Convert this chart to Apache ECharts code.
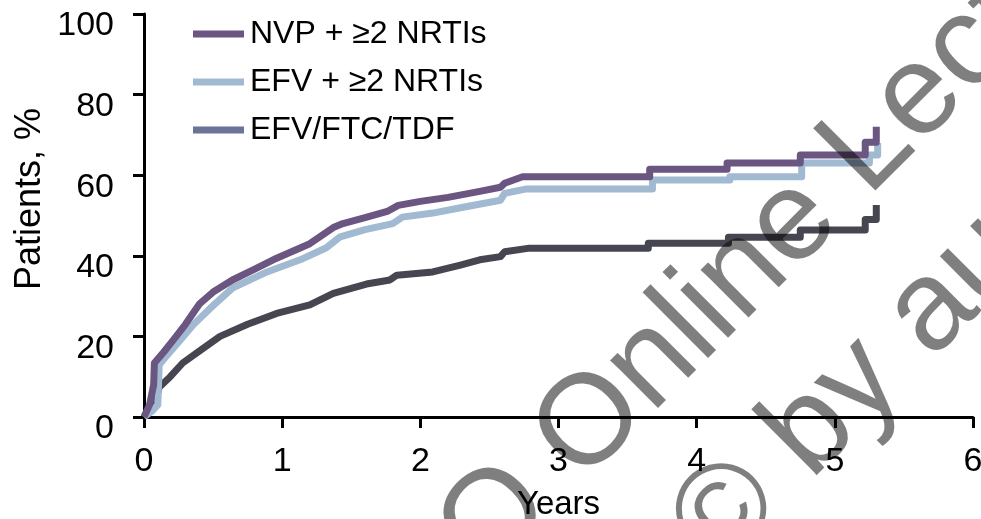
<!DOCTYPE html>
<html>
<head>
<meta charset="utf-8">
<script src="https://cdn.jsdelivr.net/npm/echarts@6/dist/echarts.min.js"></script>
<style>html,body{margin:0;padding:0;background:#fff}#c{width:981px;height:519px}</style>
</head>
<body>
<div id="c"></div>
<script>
var seriesNames = ['NVP + \u22652 NRTIs', 'EFV + \u22652 NRTIs', 'EFV/FTC/TDF'];
var xTicks = [0, 1, 2, 3, 4, 5, 6];
var yTicks = [0, 20, 40, 60, 80, 100];

var nvpYears = [0,0.04,0.07,0.075,0.14,0.21,0.3,0.4,0.5,0.64,0.79,0.96,1.2,1.37,1.44,1.6,1.76,1.84,2.0,2.2,2.43,2.58,2.61,2.74,3.66,3.66,4.22,4.22,4.75,4.75,5.22,5.22,5.30,5.30];
var nvpPct   = [0,3,8,13.4,16,19,23,28,31,34,36.5,39.4,43,47,48,49.5,51,52.5,53.5,54.5,56,57,58,59.6,59.6,61.5,61.5,63,63,65,65,68.2,68.2,72];

var efvYears = [0,0.06,0.1,0.11,0.16,0.26,0.36,0.48,0.64,0.89,1.13,1.32,1.42,1.6,1.80,1.87,2.09,2.3,2.58,2.61,2.77,3.68,3.68,4.24,4.24,4.76,4.76,5.25,5.25,5.31,5.31];
var efvPct   = [0,1.5,3,13,15,19,23,27,32,36,39,42,44.7,46.5,48,49.6,50.6,52,53.8,55.5,56.6,56.6,58.8,58.8,59.6,59.6,63,63,65,65,68];

var tdfYears = [0,0.05,0.1,0.11,0.19,0.28,0.41,0.55,0.75,0.96,1.2,1.37,1.61,1.78,1.83,2.09,2.29,2.43,2.58,2.61,2.79,3.65,3.65,4.23,4.23,4.75,4.75,5.22,5.22,5.30,5.30];
var tdfPct   = [0,3,6,7.4,10,13.4,16.6,20,23,25.7,27.8,30.7,33,34,35.2,36,37.7,39,39.8,41,41.9,41.9,43.1,43.1,44.6,44.6,46.4,46.4,49,49,52.6];

function pairs(xs, ys) { return xs.map(function (x, i) { return [x, ys[i]]; }); }

var FONT = '"Liberation Sans", Arial, sans-serif';
var chart = echarts.init(document.getElementById('c'), null, { renderer: 'canvas' });
chart.setOption({
  animation: false,
  backgroundColor: '#ffffff',
  grid: { left: 144, right: 8, top: 14, bottom: 102, containLabel: false, outerBoundsMode: 'none' },
  legend: {
    orient: 'vertical', left: 188, top: 13, itemWidth: 51, itemHeight: 7, itemGap: 16,
    icon: 'rect',
    textStyle: { fontFamily: FONT, fontSize: 32, color: '#000', padding: [0, 0, 0, 1] },
    data: [
      { name: seriesNames[0], itemStyle: { color: '#6b5581' } },
      { name: seriesNames[1], itemStyle: { color: '#a1b9d1' } },
      { name: seriesNames[2], itemStyle: { color: '#6b7397' } }
    ]
  },
  xAxis: {
    type: 'value', min: 0, max: 6, interval: 1,
    name: 'Years', nameLocation: 'middle', nameGap: 71,
    nameTextStyle: { fontFamily: FONT, fontSize: 33, color: '#000' },
    axisLine: { onZero: false, lineStyle: { color: '#000', width: 3 } },
    axisTick: { show: true, length: 11, lineStyle: { color: '#000', width: 3 } },
    axisLabel: { fontFamily: FONT, fontSize: 34, color: '#000', margin: 28,
      formatter: function (v) { return xTicks.indexOf(v) >= 0 ? String(v) : ''; } },
    splitLine: { show: false }
  },
  yAxis: {
    type: 'value', min: 0, max: 100, interval: 20,
    axisLine: { show: true, lineStyle: { color: '#000', width: 3 } },
    axisTick: { show: true, length: 11, lineStyle: { color: '#000', width: 3 } },
    axisLabel: { fontFamily: FONT, fontSize: 34, color: '#000', margin: 30,
      verticalAlign: 'top', lineHeight: 24,
      formatter: function (v) { return yTicks.indexOf(v) >= 0 ? String(v) : ''; } },
    splitLine: { show: false }
  },
  series: [
    { name: seriesNames[0], type: 'line', z: 4, showSymbol: false, symbol: 'none',
      data: pairs(nvpYears, nvpPct), lineStyle: { color: '#6b5581', width: 7, join: 'round' }, itemStyle: { color: '#6b5581' } },
    { name: seriesNames[1], type: 'line', z: 3, showSymbol: false, symbol: 'none',
      data: pairs(efvYears, efvPct), lineStyle: { color: '#a1b9d1', width: 7, join: 'round' }, itemStyle: { color: '#a1b9d1' } },
    { name: seriesNames[2], type: 'line', z: 2, showSymbol: false, symbol: 'none',
      data: pairs(tdfYears, tdfPct), lineStyle: { color: '#464651', width: 7, join: 'round' }, itemStyle: { color: '#464651' } }
  ],
  graphic: [
    { type: 'text', x: 30, y: 199, rotation: Math.PI / 2, z: 10,
      style: { text: 'Patients, %', font: '36px ' + FONT, fill: '#000', align: 'center', verticalAlign: 'middle' } },
    { type: 'text', x: 330, y: 686, rotation: Math.PI / 4, z: 100,
      style: { text: 'CCO Online Lecture', font: '128px ' + FONT, fill: 'rgba(0,0,0,0.5)', align: 'left', verticalAlign: 'middle' } },
    { type: 'text', x: 694, y: 548, rotation: Math.PI / 4, z: 100,
      style: { text: '\u00a9 by author', font: '128px ' + FONT, fill: 'rgba(0,0,0,0.5)', align: 'left', verticalAlign: 'middle' } }
  ]
});
</script>
</body>
</html>
